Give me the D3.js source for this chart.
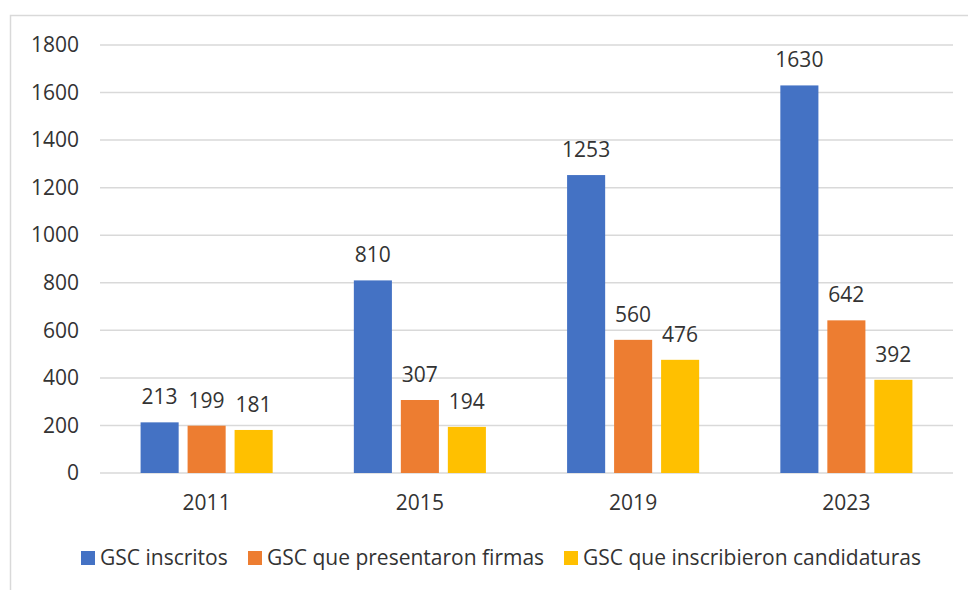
<!DOCTYPE html>
<html lang="es">
<head>
  <meta charset="utf-8">
  <title>GSC</title>
  <script src="https://cdn.jsdelivr.net/npm/d3@7"></script>
  <style>
    * { margin: 0; padding: 0; }
    body { background: #fff; }
    text { font-family: "Open Sans", sans-serif; fill: #333; }
  </style>
</head>
<body>
  <div id="chart"></div>
  <script>
    // datos
    var years = ["2011", "2015", "2019", "2023"];
    var series = ["GSC inscritos", "GSC que presentaron firmas", "GSC que inscribieron candidaturas"];
    var inscritos = [213, 810, 1253, 1630];
    var firmas = [199, 307, 560, 642];
    var candidaturas = [181, 194, 476, 392];
    var yTicks = [0, 200, 400, 600, 800, 1000, 1200, 1400, 1600, 1800];

    var colors = ["#4472C4", "#ED7D31", "#FFC000"];
    var values = [inscritos, firmas, candidaturas];

    var width = 968, height = 590;
    var plot = { left: 100, right: 953, top: 45, bottom: 473 };
    var fontSize = 21;

    var svg = d3.select("#chart").append("svg")
      .attr("width", width)
      .attr("height", height);

    // marco
    svg.append("rect")
      .attr("x", 10.5).attr("y", 15.5)
      .attr("width", 980).attr("height", 600)
      .attr("fill", "none")
      .attr("stroke", "#D9D9D9")
      .attr("stroke-width", 1.5);

    var x = d3.scaleBand().domain(years).range([plot.left, plot.right]);
    var xInner = d3.scaleBand().domain(series)
      .range([-70.5, 70.5])
      .paddingInner(0.19)
      .paddingOuter(0.095);
    var y = d3.scaleLinear().domain([0, 1800]).range([plot.bottom, plot.top]);

    // eje Y con lineas de cuadricula
    var yAxis = d3.axisLeft(y).tickValues(yTicks).tickFormat(d3.format("d")).tickSize(0).tickPadding(21);
    var yG = svg.append("g")
      .attr("transform", "translate(" + plot.left + ",0)")
      .call(yAxis);
    yG.select(".domain").remove();
    yG.selectAll("text")
      .attr("font-size", fontSize)
      .attr("font-family", "Open Sans, sans-serif")
      .attr("fill", "#333");

    svg.append("g").selectAll("line")
      .data(yTicks)
      .join("line")
      .attr("x1", plot.left).attr("x2", plot.right)
      .attr("y1", function(d) { return y(d); })
      .attr("y2", function(d) { return y(d); })
      .attr("stroke", "#D9D9D9")
      .attr("stroke-width", 1.5);

    // eje X
    var xAxis = d3.axisBottom(x).tickSize(0).tickPadding(22);
    var xG = svg.append("g")
      .attr("transform", "translate(0," + plot.bottom + ")")
      .call(xAxis);
    xG.select(".domain").remove();
    xG.selectAll("text")
      .attr("font-size", fontSize)
      .attr("font-family", "Open Sans, sans-serif")
      .attr("fill", "#333");

    // barras
    var rows = [];
    series.forEach(function(s, i) {
      years.forEach(function(yr, j) {
        rows.push({ serie: s, year: yr, value: values[i][j], color: colors[i] });
      });
    });

    var barG = svg.append("g");
    barG.selectAll("rect")
      .data(rows)
      .join("rect")
      .attr("x", function(d) { return x(d.year) + x.bandwidth() / 2 + xInner(d.serie); })
      .attr("y", function(d) { return y(d.value); })
      .attr("width", xInner.bandwidth())
      .attr("height", function(d) { return y(0) - y(d.value); })
      .attr("fill", function(d) { return d.color; });

    barG.selectAll("text")
      .data(rows)
      .join("text")
      .attr("x", function(d) { return x(d.year) + x.bandwidth() / 2 + xInner(d.serie) + xInner.bandwidth() / 2; })
      .attr("y", function(d) { return y(d.value) - 18; })
      .attr("text-anchor", "middle")
      .attr("font-size", fontSize)
      .text(function(d) { return d.value; });

    // leyenda
    var legendX = [81, 248, 564];
    var legend = svg.append("g").selectAll("g")
      .data(series)
      .join("g")
      .attr("transform", function(d, i) { return "translate(" + legendX[i] + ",558)"; });
    legend.append("rect")
      .attr("x", 0).attr("y", -7)
      .attr("width", 14).attr("height", 14)
      .attr("fill", function(d, i) { return colors[i]; });
    legend.append("text")
      .attr("x", 19)
      .attr("dy", "0.35em")
      .attr("font-size", fontSize)
      .text(function(d) { return d; });
  </script>
</body>
</html>
